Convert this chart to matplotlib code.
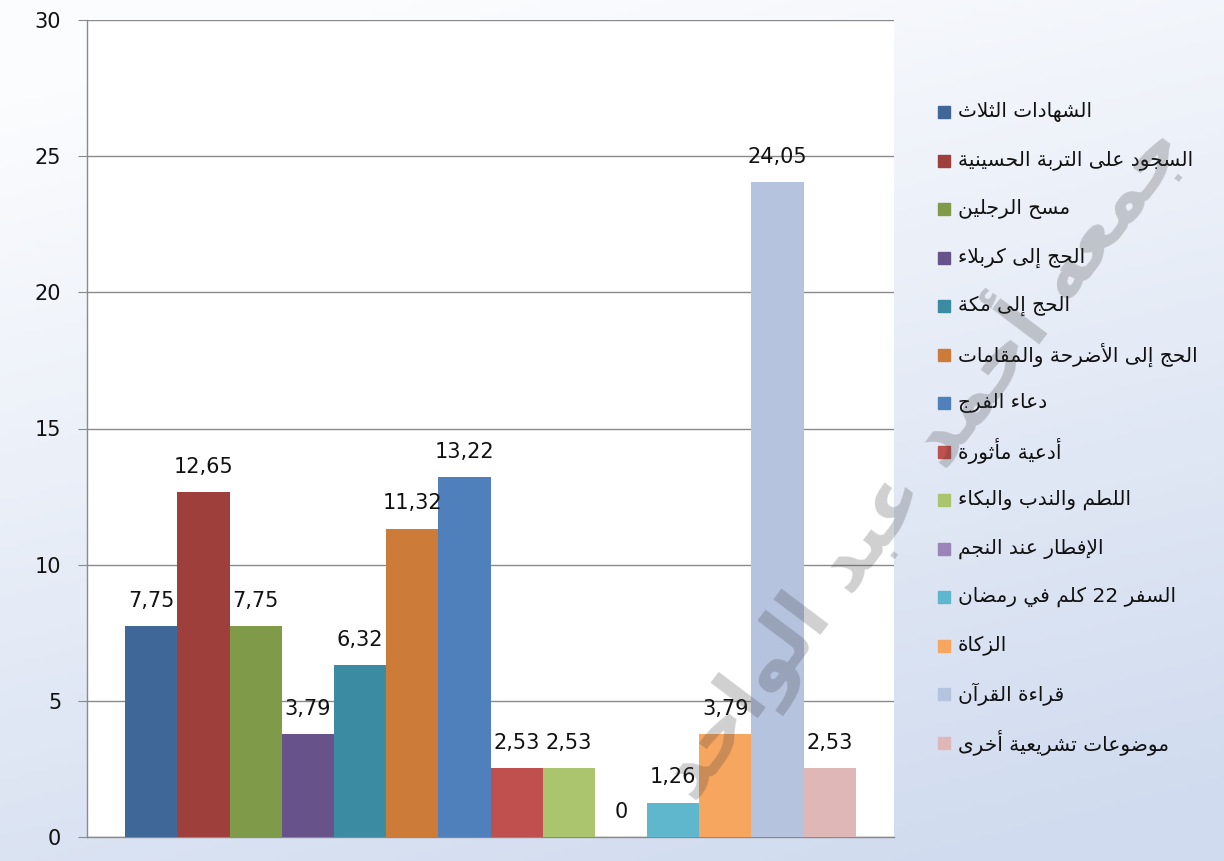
import re
import numpy as np
import matplotlib
matplotlib.use("Agg")
import matplotlib.pyplot as plt
from matplotlib.colors import LinearSegmentedColormap
from matplotlib.patches import Rectangle

# data
categories = [
    "الشهادات الثلاث",
    "السجود على التربة الحسينية",
    "مسح الرجلين",
    "الحج إلى كربلاء",
    "الحج إلى مكة",
    "الحج إلى الأضرحة والمقامات",
    "دعاء الفرج",
    "أدعية مأثورة",
    "اللطم والندب والبكاء",
    "الإفطار عند النجم",
    "السفر 22 كلم في رمضان",
    "الزكاة",
    "قراءة القرآن",
    "موضوعات تشريعية أخرى",
]
values = [7.75, 12.65, 7.75, 3.79, 6.32, 11.32, 13.22, 2.53, 2.53, 0, 1.26, 3.79, 24.05, 2.53]
colors = ["#3F6797", "#9E3F3C", "#7F9A48", "#67528A", "#3B8BA2", "#CC7B38", "#4F80BC",
          "#C0504D", "#AAC56E", "#9A84B8", "#5EB7CD", "#F7A660", "#B5C3DF", "#E0B7B7"]
yticks = [0, 5, 10, 15, 20, 25, 30]
watermark = "جمعه أحمد عبد الواحد"

# --- minimal Arabic shaping (matplotlib has no shaping / bidi) ---
DUAL = {'ئ': 0xFE89, 'ب': 0xFE8F, 'ت': 0xFE95, 'ث': 0xFE99, 'ج': 0xFE9D, 'ح': 0xFEA1,
        'خ': 0xFEA5, 'س': 0xFEB1, 'ش': 0xFEB5, 'ص': 0xFEB9, 'ض': 0xFEBD, 'ط': 0xFEC1,
        'ظ': 0xFEC5, 'ع': 0xFEC9, 'غ': 0xFECD, 'ف': 0xFED1, 'ق': 0xFED5, 'ك': 0xFED9,
        'ل': 0xFEDD, 'م': 0xFEE1, 'ن': 0xFEE5, 'ه': 0xFEE9, 'ي': 0xFEF1}
RIGHT = {'آ': 0xFE81, 'أ': 0xFE83, 'ؤ': 0xFE85, 'إ': 0xFE87, 'ا': 0xFE8D, 'ة': 0xFE93,
         'د': 0xFEA9, 'ذ': 0xFEAB, 'ر': 0xFEAD, 'ز': 0xFEAF, 'و': 0xFEED, 'ى': 0xFEEF}
LAMALEF = {'آ': 0xFEF5, 'أ': 0xFEF7, 'إ': 0xFEF9, 'ا': 0xFEFB}


def ar(text):
    out = []
    i, n = 0, len(text)
    while i < n:
        c = text[i]
        prev = text[i - 1] if i > 0 else ''
        link_prev = (c in DUAL or c in RIGHT) and prev in DUAL
        if c == 'ل' and i + 1 < n and text[i + 1] in LAMALEF:
            out.append(chr(LAMALEF[text[i + 1]] + (1 if link_prev else 0)))
            i += 2
            continue
        nxt = text[i + 1] if i + 1 < n else ''
        link_next = c in DUAL and (nxt in DUAL or nxt in RIGHT)
        if c in DUAL:
            off = 3 if (link_prev and link_next) else 1 if link_prev else 2 if link_next else 0
            out.append(chr(DUAL[c] + off))
        elif c in RIGHT:
            out.append(chr(RIGHT[c] + (1 if link_prev else 0)))
        elif c == 'ء':
            out.append(chr(0xFE80))
        else:
            out.append(c)
        i += 1
    vis = ''.join(out)[::-1]
    return re.sub(r'[0-9]+', lambda m: m.group(0)[::-1], vis)


W, H = 1224, 861
fig = plt.figure(figsize=(W / 100, H / 100), dpi=100)

# background gradient
bg = fig.add_axes([0, 0, 1, 1], zorder=-10)
yy, xx = np.mgrid[0:1:200j, 0:1:200j]
t = np.clip(0.85 * yy + 0.3 * xx - 0.1, 0, 1)
cmap = LinearSegmentedColormap.from_list("bg", ["#FBFCFE", "#D0DBEF"])
bg.imshow(t, cmap=cmap, aspect="auto", extent=[0, 1, 0, 1], origin="upper", vmin=0, vmax=1)
bg.axis("off")

ax = fig.add_axes([87 / W, 1 - 837 / H, (894 - 87) / W, (837 - 20) / H])
ax.set_facecolor("white")
x = np.arange(len(values))
bars = ax.bar(x, values, width=1.0, color=colors, zorder=3)
labels = ["0" if v == 0 else f"{v:.2f}".replace(".", ",") for v in values]
ax.bar_label(bars, labels=labels, padding=11, fontsize=15, color="#111111")

ax.set_xlim(-1.23, len(values) - 1 + 1.23)
ax.set_ylim(0, 30)
ax.set_yticks(yticks)
ax.set_xticks([])
ax.yaxis.grid(True, color="#8A8A8A", linewidth=1)
ax.set_axisbelow(True)
for s in ["top", "right"]:
    ax.spines[s].set_visible(False)
for s in ["left", "bottom"]:
    ax.spines[s].set_color("#8A8A8A")
    ax.spines[s].set_linewidth(1)
ax.tick_params(axis="y", direction="out", length=6.5, color="#8A8A8A", pad=12,
               labelsize=15, labelcolor="#111111")

# legend drawn by hand on the right
for i, (lab, col) in enumerate(zip(categories, colors)):
    yc = 1 - (112 + i * 48.5) / H
    fig.patches.append(Rectangle((938 / W, yc - 6 / H), 12 / W, 12 / H,
                                 transform=fig.transFigure, color=col, zorder=5))
    fig.text(958 / W, yc, ar(lab), fontsize=14.5, va="center", ha="left", color="#111111")

# watermark
fig.text(1165 / W, 1 - 130 / H, ar(watermark), rotation=53, rotation_mode="anchor",
         ha="right", va="center", fontsize=56, fontweight="bold", color="#3A3A3A",
         alpha=0.24, zorder=20)

fig.savefig("out.png", dpi=100)
